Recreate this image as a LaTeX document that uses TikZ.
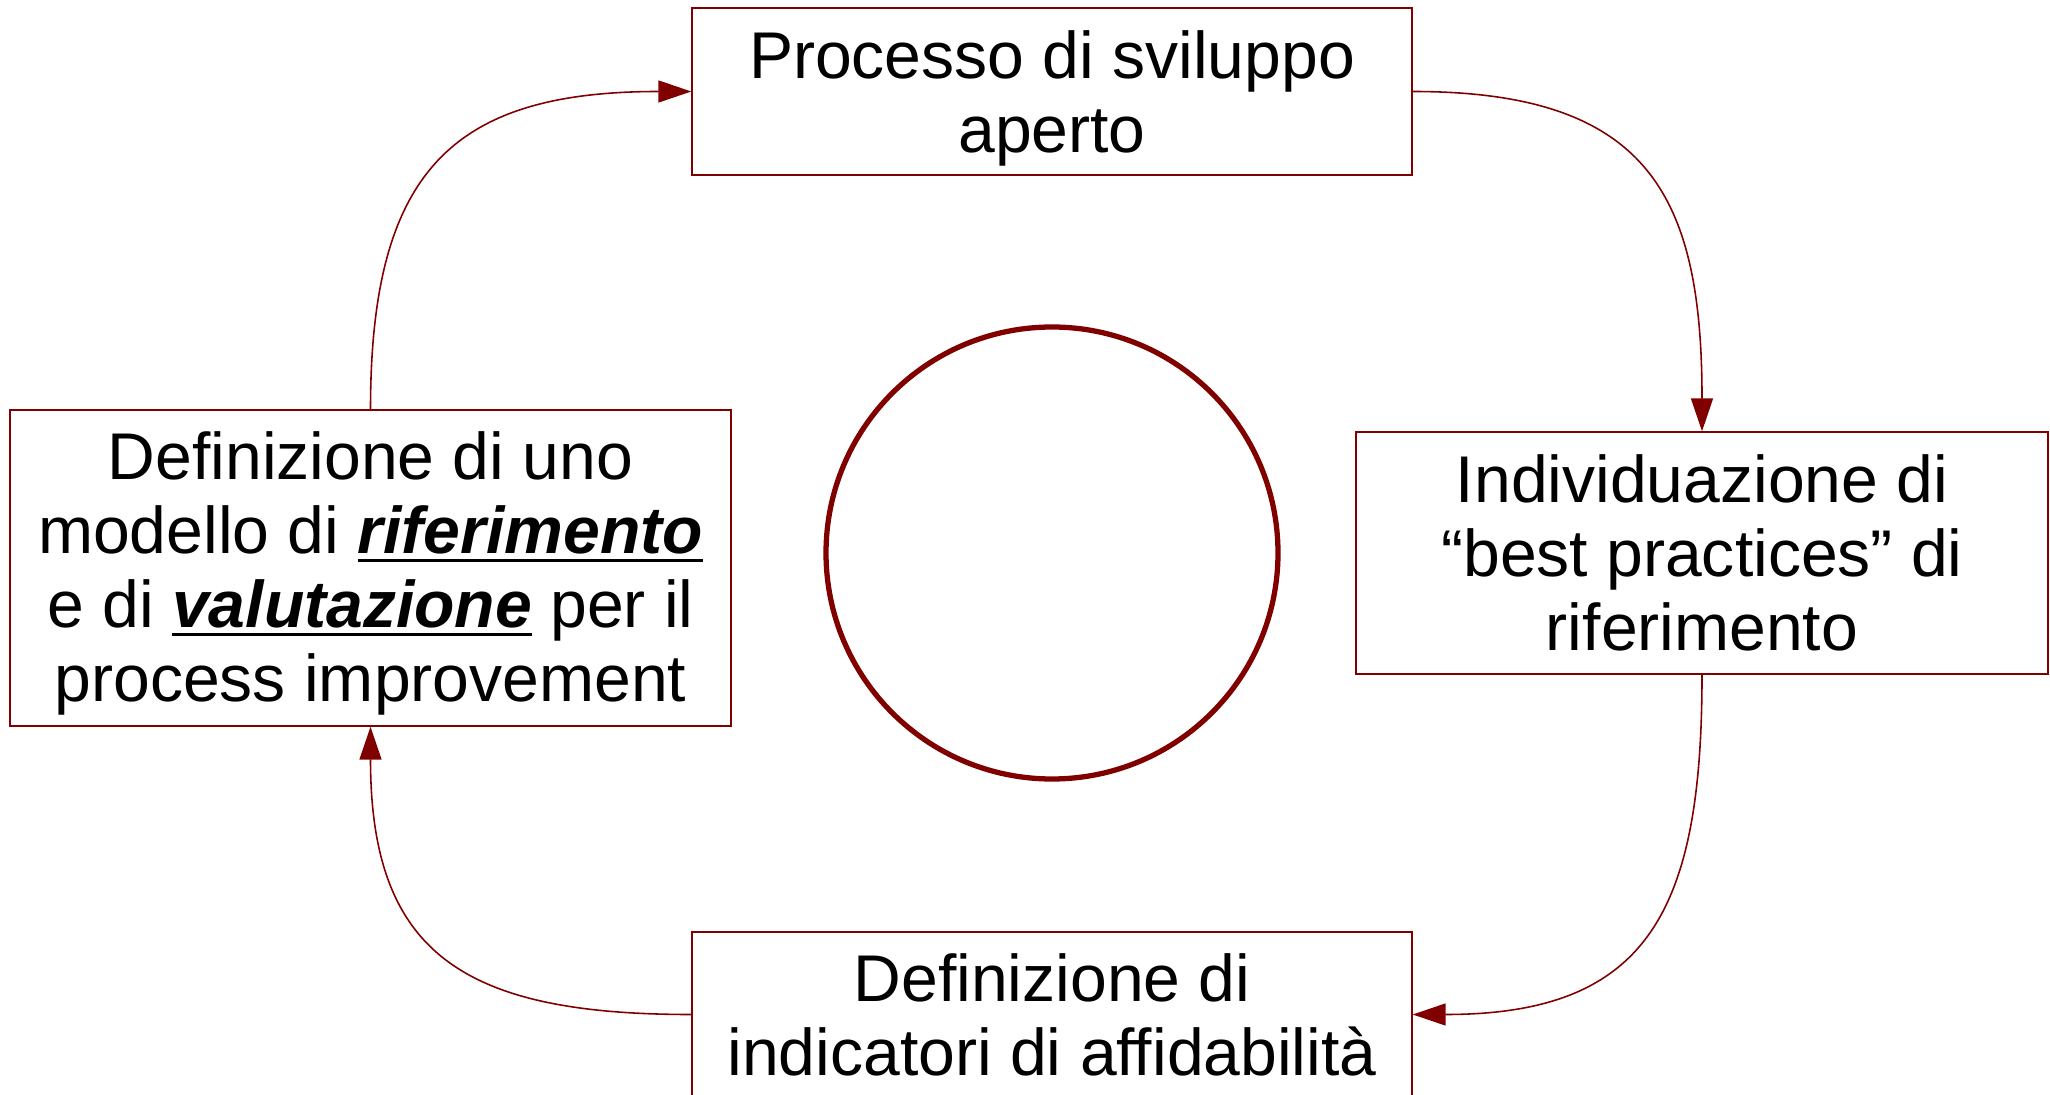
\documentclass[tikz,border=0pt]{standalone}
\usepackage{fontspec}
\setmainfont{Liberation Sans}
\usetikzlibrary{arrows.meta,positioning}
\definecolor{bordeaux}{HTML}{800000}
\newsavebox{\enfasibox}
\newcommand{\enfasi}[1]{\sbox{\enfasibox}{\textbf{\textit{#1}}}\rlap{\rule[-2.45pt]{\wd\enfasibox}{0.9pt}}\usebox{\enfasibox}}
\tikzset{
block/.style = {draw=bordeaux, fill=white, rectangle, line width=0.4pt, inner sep=0pt, align=center, font=\fontsize{18.8pt}{21pt}\selectfont},
ring/.style  = {draw=bordeaux, circle, line width=1.5pt, minimum size=4.52cm, inner sep=0pt},
link/.style  = {draw=bordeaux, line width=0.45pt, looseness=1.35}
}

\begin{document}
\begin{tikzpicture}[node distance=4.615cm, >={Triangle[length=0.33cm,width=0.22cm]}]
  \useasboundingbox (0,0) rectangle (20.5,-10.95);
  \node [ring] (ciclo) at (10.52,-5.53) {};
  \node [block, above of=ciclo, minimum width=7.2cm, minimum height=1.67cm, text height=38.4pt]           (sviluppo)   {Processo di sviluppo\\aperto};
  \node [block, node distance=6.5cm, right of=ciclo, minimum width=6.92cm, minimum height=2.42cm]          (pratiche)   {Individuazione di\\“best practices” di\\riferimento};
  \node [block, below of=ciclo, minimum width=7.2cm, minimum height=1.65cm]                               (indicatori) {Definizione di\\indicatori di affidabilità};
  \node [block, node distance=6.815cm, left of=ciclo, yshift=-0.15cm, minimum width=7.21cm, minimum height=3.16cm, text height=79.8pt] (modello) {Definizione di uno\\modello di \enfasi{riferimento}\\e di \enfasi{valutazione} per il\\process improvement};

  \draw [->, link] (sviluppo.east) to[out=0, in=90] (pratiche.north);
  \draw [->, link] (pratiche.south) to[out=-90, in=0] (indicatori.east);
  \draw [->, link] (indicatori.west) to[out=180, in=-90] (modello.south);
  \draw [->, link] (modello.north) to[out=90, in=180] (sviluppo.west);
\end{tikzpicture}
\end{document}
